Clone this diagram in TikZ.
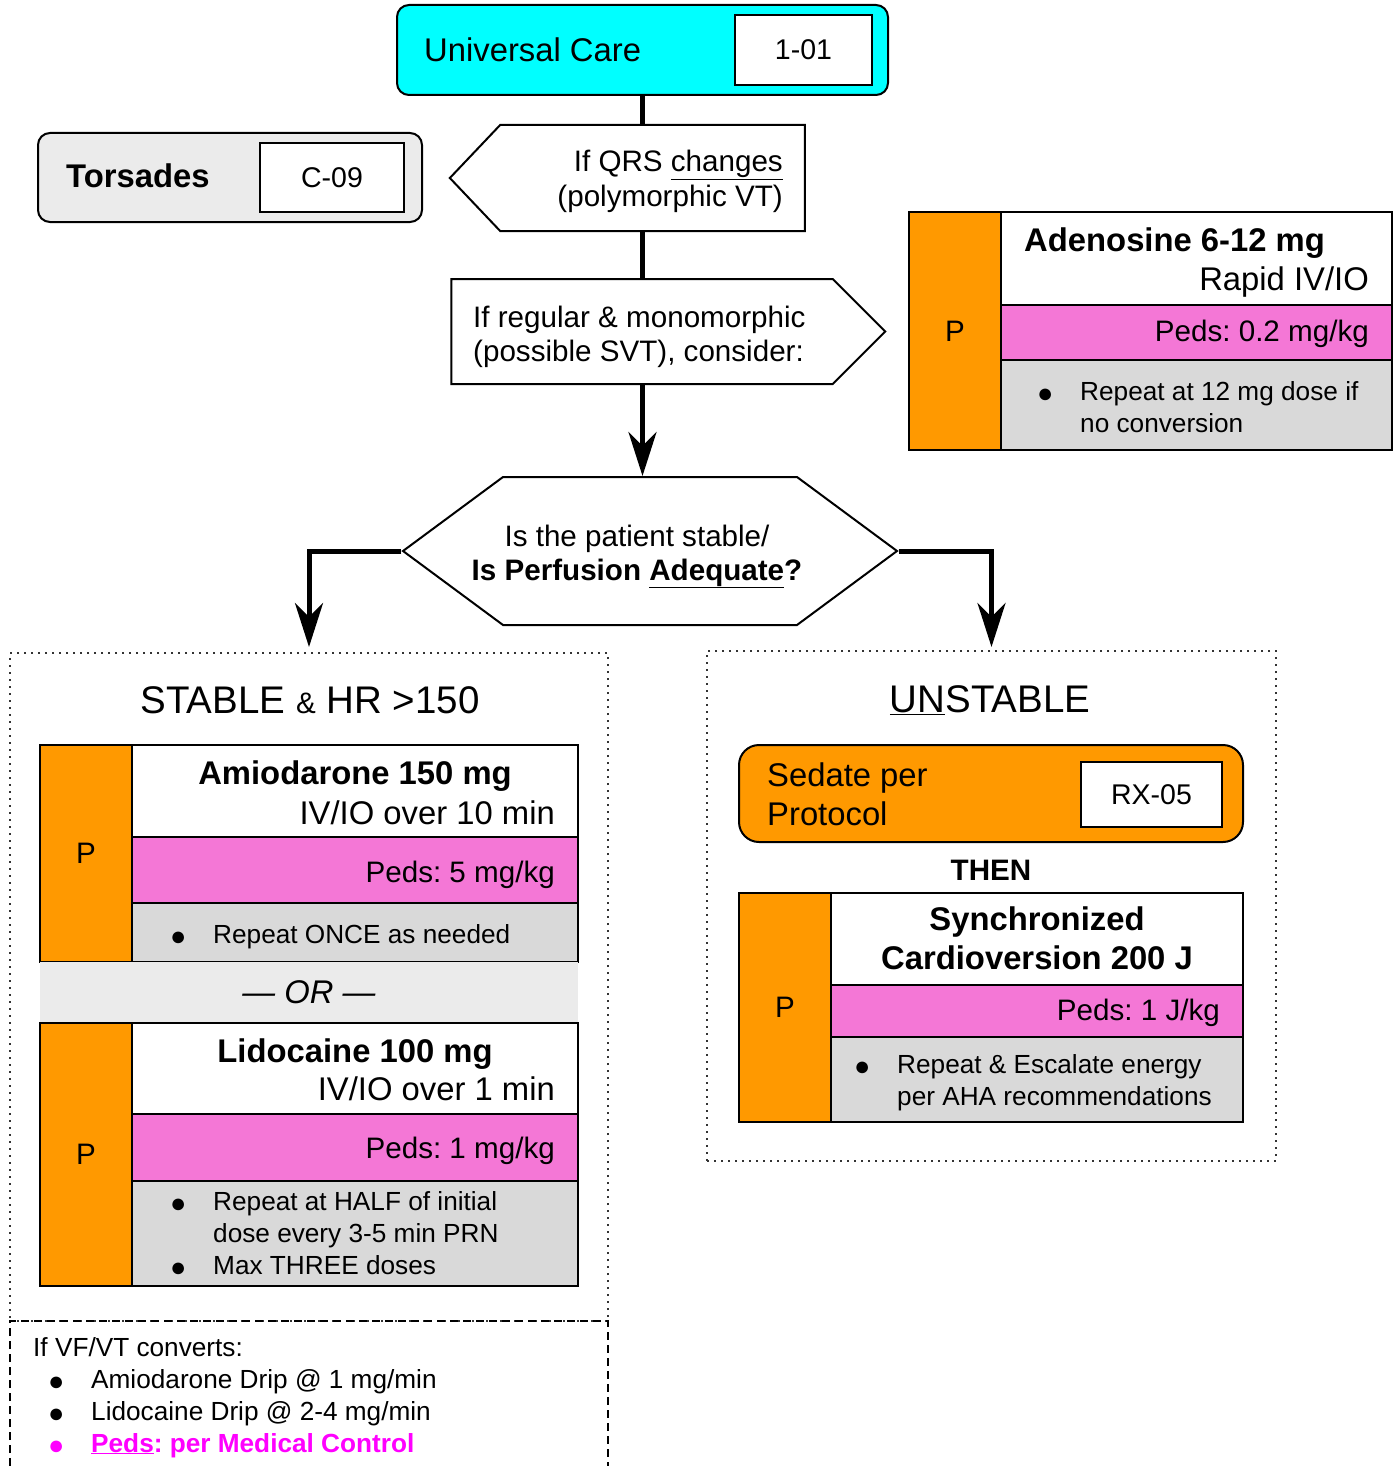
\documentclass[tikz,border=0pt]{standalone}
\usepackage{fontspec}
\setmainfont{Liberation Sans}
\usepackage{tikz}
\usetikzlibrary{shapes,arrows.meta,calc,positioning}
\definecolor{ucCyan}{HTML}{00FFFF}
\definecolor{pOrange}{HTML}{FF9900}
\definecolor{pedsPink}{HTML}{F477D6}
\definecolor{noteGray}{HTML}{D9D9D9}
\definecolor{bandGray}{HTML}{EBEBEB}
\definecolor{pedsMagenta}{HTML}{FF00FF}
\newcommand{\fbig}{\fontsize{32.8pt}{39pt}\selectfont}
\newcommand{\fmid}{\fontsize{29.6pt}{34pt}\selectfont}
\newcommand{\fsmall}{\fontsize{26.2pt}{32pt}\selectfont}
\newcommand{\fhead}{\fontsize{38.5pt}{44pt}\selectfont}
\newcommand{\fref}{\fontsize{28.5pt}{32pt}\selectfont}
\newcommand{\bul}{\makebox[43pt][l]{\raisebox{-2pt}{\fontsize{27pt}{27pt}\selectfont ●}}}
\newcommand{\bulpad}{\hspace*{43pt}}
\tikzstyle{link} = [line width=5pt]
\tikzstyle{refbox} = [draw, fill=white, line width=2pt, font=\fref, inner sep=0pt]
\tikzstyle{pcol} = [draw, fill=pOrange, line width=2pt, anchor=north west,
    minimum width=92pt, inner sep=0pt, outer sep=0pt, font=\fmid]
\tikzstyle{cell} = [draw, line width=2pt, anchor=north west, inner sep=0pt, outer sep=0pt]
\tikzstyle{txt} = [inner sep=0pt]
\tikzstyle{decision} = [draw, fill=white, line width=2pt, signal, inner sep=0pt]
\tikzstyle{region} = [draw=black!80, line width=2pt, dash pattern=on 2pt off 5pt, inner sep=0pt]

\begin{document}
\frenchspacing
\begin{tikzpicture}[x=1pt, y=-1pt, >={Stealth[length=44pt,width=28pt,inset=14pt]}]
    \useasboundingbox (0,0) rectangle (1395,1466);

    % top of the flow
    \node[draw, fill=ucCyan, line width=2pt, rounded corners=12pt,
        minimum width=491pt, minimum height=90pt] (uc) at (642.5,50) {};
    \node[txt, font=\fbig, anchor=base west] (ucText) at (424,62) {Universal Care};
    \node[refbox, minimum width=137pt, minimum height=70pt] (ucRef) at (803.5,50) {1-01};

    \node[draw, fill=bandGray, line width=2pt, rounded corners=12pt,
        minimum width=384pt, minimum height=89pt] (tors) at (230,177.5) {};
    \node[txt, font=\fbig\bfseries, anchor=base west] (torsText) at (66,188) {Torsades};
    \node[refbox, minimum width=144pt, minimum height=69pt] (torsRef) at (332,177.5) {C-09};

    \node[decision, signal to=west, signal pointer angle=93,
        minimum width=355pt, minimum height=106pt] (qrs) at (652.5,178) {};
    \node[txt, font=\fmid, align=right, anchor=base east] (qrsText) at (783,206)
        {If QRS \underline{changes}\\(polymorphic VT)};

    \node[decision, signal to=east, signal pointer angle=90,
        minimum width=434pt, minimum height=105pt] (reg) at (642,331.5) {};
    \node[txt, font=\fmid, align=left, anchor=base west] (regText) at (473,361)
        {If regular \& monomorphic\\(possible SVT), consider:};

    \node[decision, signal to=east and west, signal pointer angle=73,
        minimum width=494pt, minimum height=148pt] (hex) at (650,551) {};
    \node[txt, font=\fmid, align=center, anchor=base] (hexText) at (637,580)
        {Is the patient stable/\\\textbf{Is Perfusion \underline{Adequate}?}};

    \draw[link] (uc.south) -- (uc.south |- qrs.north);
    \draw[link] (uc.south |- qrs.south) -- (uc.south |- reg.north);
    \draw[link, ->] (uc.south |- reg.south) -- (uc.south |- hex.north);

    % adenosine
    \node[pcol, minimum height=238pt] (adenoP) at (909,212) {P};
    \node[cell, fill=white, minimum width=391pt, minimum height=93pt] (adenoTop) at (adenoP.north east) {};
    \node[cell, fill=pedsPink, minimum width=391pt, minimum height=55pt] (adenoPeds) at (adenoTop.south west) {};
    \node[cell, fill=noteGray, minimum width=391pt, minimum height=90pt] (adenoNote) at (adenoPeds.south west) {};
    \node[txt, font=\fbig\bfseries, anchor=base west] (adenoName) at (1024,251) {Adenosine 6-12 mg};
    \node[txt, font=\fbig, anchor=base east] (adenoRoute) at (1369,290) {Rapid IV/IO};
    \node[txt, font=\fmid, anchor=base east] (adenoPedsText) at (1369,341) {Peds: 0.2 mg/kg};
    \node[txt, font=\fsmall, align=left, anchor=base west] (adenoNoteText) at (1037,432)
        {\bul Repeat at 12 mg dose if\\\bulpad no conversion};

    % stable side
    \node[region, minimum width=598pt, minimum height=668pt] (stable) at (309,987) {};
    \draw[link, ->, shorten >=5pt] (hex.west) -| (stable.north);
    \node[txt, font=\fhead, anchor=base] (stableTitle) at (310,713) {STABLE {\fmid\&} HR >150};

    \node[pcol, minimum height=217pt] (amioP) at (40,745) {P};
    \node[cell, fill=white, minimum width=446pt, minimum height=92pt] (amioTop) at (amioP.north east) {};
    \node[cell, fill=pedsPink, minimum width=446pt, minimum height=66pt] (amioPeds) at (amioTop.south west) {};
    \node[cell, fill=noteGray, minimum width=446pt, minimum height=59pt] (amioNote) at (amioPeds.south west) {};
    \node[txt, font=\fbig\bfseries, anchor=base] (amioName) at (355,784) {Amiodarone 150 mg};
    \node[txt, font=\fbig, anchor=base east] (amioRoute) at (555,824) {IV/IO over 10 min};
    \node[txt, font=\fmid, anchor=base east] (amioPedsText) at (555,882) {Peds: 5 mg/kg};
    \node[txt, font=\fsmall, anchor=base west] (amioNoteText) at (170,943) {\bul Repeat ONCE as needed};

    \node[fill=bandGray, anchor=north west, inner sep=0pt, outer sep=0pt,
        minimum width=538pt, minimum height=61pt] (orBand) at (40,962) {};
    \node[txt, font=\fbig\itshape] (orText) at (orBand) {— OR —};

    \node[pcol, minimum height=263pt] (lidoP) at (40,1023) {P};
    \node[cell, fill=white, minimum width=446pt, minimum height=91pt] (lidoTop) at (lidoP.north east) {};
    \node[cell, fill=pedsPink, minimum width=446pt, minimum height=67pt] (lidoPeds) at (lidoTop.south west) {};
    \node[cell, fill=noteGray, minimum width=446pt, minimum height=105pt] (lidoNote) at (lidoPeds.south west) {};
    \node[txt, font=\fbig\bfseries, anchor=base] (lidoName) at (355,1062) {Lidocaine 100 mg};
    \node[txt, font=\fbig, anchor=base east] (lidoRoute) at (555,1100) {IV/IO over 1 min};
    \node[txt, font=\fmid, anchor=base east] (lidoPedsText) at (555,1158) {Peds: 1 mg/kg};
    \node[txt, font=\fsmall, align=left, anchor=base west] (lidoNoteText) at (170,1274)
        {\bul Repeat at HALF of initial\\\bulpad dose every 3-5 min PRN\\\bul Max THREE doses};

    % after conversion
    \draw[line width=2pt, dash pattern=on 8pt off 5pt] (10,1466) |- (608,1321) -- (608,1466);
    \node[txt, font=\fsmall, align=left, anchor=base west] (notesText) at (33,1452)
        {If VF/VT converts:\\
         \hspace*{15pt}\bul Amiodarone Drip @ 1 mg/min\\
         \hspace*{15pt}\bul Lidocaine Drip @ 2-4 mg/min\\
         {\color{pedsMagenta}\hspace*{15pt}\bul\textbf{\underline{Peds}: per Medical Control}}};

    % unstable side
    \node[region, minimum width=569pt, minimum height=510pt] (unstable) at (991.5,906) {};
    \draw[link, ->, shorten >=3pt] (hex.east) -| (unstable.north);
    \node[txt, font=\fhead, anchor=base] (unstableTitle) at (990,712) {\underline{UN}STABLE};

    \node[draw, fill=pOrange, line width=2pt, rounded corners=20pt,
        minimum width=504pt, minimum height=97pt] (sedate) at (991,793.5) {};
    \node[txt, font=\fbig, align=left, anchor=base west] (sedateText) at (767,825) {Sedate per\\Protocol};
    \node[refbox, minimum width=141pt, minimum height=65pt] (sedateRef) at (1151.5,794.5) {RX-05};
    \node[txt, font=\fmid\bfseries, anchor=base] (thenText) at (991,880) {THEN};

    \node[pcol, minimum height=229pt] (syncP) at (739,893) {P};
    \node[cell, fill=white, minimum width=412pt, minimum height=92pt] (syncTop) at (syncP.north east) {};
    \node[cell, fill=pedsPink, minimum width=412pt, minimum height=52pt] (syncPeds) at (syncTop.south west) {};
    \node[cell, fill=noteGray, minimum width=412pt, minimum height=85pt] (syncNote) at (syncPeds.south west) {};
    \node[txt, font=\fbig\bfseries, align=center, anchor=base] (syncName) at (1037,969)
        {Synchronized\\Cardioversion 200 J};
    \node[txt, font=\fmid, anchor=base east] (syncPedsText) at (1220,1020) {Peds: 1 J/kg};
    \node[txt, font=\fsmall, align=left, anchor=base west] (syncNoteText) at (854,1105)
        {\bul Repeat \& Escalate energy\\\bulpad per AHA recommendations};
\end{tikzpicture}
\end{document}
